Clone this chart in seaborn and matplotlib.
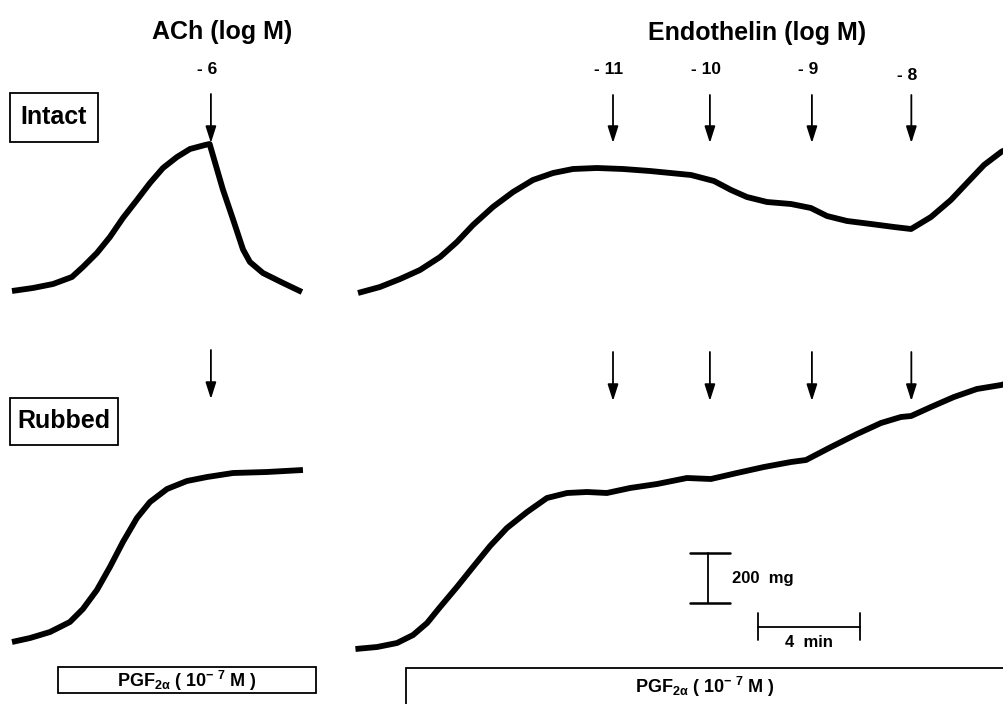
import numpy as np
import pandas as pd
import seaborn as sns
import matplotlib.pyplot as plt
from matplotlib.patches import Rectangle

# Tension traces: time after start of trace (min), tension above starting baseline (mg)
ach_intact_t = [0.00, 0.82, 1.61, 2.35, 2.78, 3.33, 3.84, 4.35, 4.90, 5.41, 5.92,
                6.47, 6.98, 7.57, 7.75, 8.27, 8.67, 9.06, 9.33, 9.84, 10.63, 11.37]
ach_intact_mg = [4, 16, 32, 60, 100, 156, 220, 296, 368, 436, 496,
                 540, 572, 588, 592, 410, 290, 170, 120, 76, 36, 0]

ach_rubbed_t = [0.00, 0.71, 1.49, 2.27, 2.78, 3.33, 3.84, 4.35, 4.90, 5.41, 6.08,
                6.86, 7.65, 8.67, 10.00, 11.41]
ach_rubbed_mg = [0, 16, 40, 80, 132, 208, 300, 400, 496, 560, 612,
                 644, 660, 676, 680, 688]

et_intact_t = [0.00, 0.86, 1.65, 2.43, 3.22, 3.88, 4.51, 5.29, 6.08, 6.86, 7.65,
               8.43, 9.37, 10.39, 11.45, 13.06, 13.96, 14.63, 15.25, 16.04, 16.98,
               17.76, 18.39, 19.18, 20.12, 21.02, 21.69, 22.47, 23.25, 23.88, 24.55,
               25.22, 25.65]
et_intact_mg = [0, 24, 56, 92, 144, 204, 272, 344, 404, 452, 480,
                496, 500, 496, 488, 472, 448, 412, 384, 364, 356,
                340, 308, 288, 276, 264, 256, 304, 372, 440, 512,
                564, 588]

et_rubbed_t = [-0.10, 0.75, 1.53, 2.16, 2.71, 3.22, 3.88, 4.51, 5.18, 5.84, 6.63,
               7.41, 8.20, 8.98, 9.76, 10.67, 11.73, 12.90, 13.84, 14.86, 15.92,
               16.98, 17.57, 18.55, 19.57, 20.51, 21.29, 21.69, 22.47, 23.37, 24.27,
               25.22, 25.65]
et_rubbed_mg = [0, 8, 24, 56, 104, 168, 248, 328, 412, 484, 548,
                604, 624, 628, 624, 644, 660, 684, 680, 704, 728,
                748, 756, 808, 860, 904, 928, 932, 968, 1008, 1040,
                1056, 1068]

# drug additions (min) and their doses (log M)
ach_times = [7.8]
ach_doses = ['-6']
et_times = [10.0, 13.8, 17.8, 21.7]
et_doses = ['-11', '-10', '-9', '-8']

scale_mg = 200
scale_min = 4

# ---- layout (pixels of a 1004x704 canvas) ----
W, H = 1004, 704
PX_PER_MIN = 25.5
PX_PER_MG = 0.25

sns.set_style('white')
plt.rcParams['font.family'] = ['Liberation Sans', 'DejaVu Sans']
plt.rcParams['text.color'] = 'black'
plt.rcParams['mathtext.fontset'] = 'custom'
plt.rcParams['mathtext.rm'] = 'Liberation Sans'
plt.rcParams['mathtext.bf'] = 'Liberation Sans:bold'
plt.rcParams['mathtext.default'] = 'bf'

fig = plt.figure(figsize=(W / 100, H / 100), dpi=100)


def fx(px):
    return px / W


def fy(py):
    return 1 - py / H


def panel(left, top, right, bottom, x0, y0):
    # axes whose data units are min / mg, trace start at pixel (x0, y0)
    ax = fig.add_axes([fx(left), fy(bottom), (right - left) / W, (bottom - top) / H])
    ax.set_xlim((left - x0) / PX_PER_MIN, (right - x0) / PX_PER_MIN)
    ax.set_ylim((y0 - bottom) / PX_PER_MG, (y0 - top) / PX_PER_MG)
    ax.axis('off')
    return ax


def trace(ax, t, mg):
    df = pd.DataFrame({'t': t, 'mg': mg})
    sns.lineplot(data=df, x='t', y='mg', ax=ax, color='black', lw=4.2,
                 sort=False, estimator=None, solid_joinstyle='round',
                 solid_capstyle='butt', legend=False)
    ax.set_xlabel('')
    ax.set_ylabel('')


def arrows(ax, times, y_top, y_tip, labels=None, label_y=None):
    for i, t in enumerate(times):
        ax.annotate('', xy=(t, fy(y_tip)), xytext=(t, fy(y_top)),
                    xycoords=('data', 'figure fraction'),
                    textcoords=('data', 'figure fraction'),
                    annotation_clip=False,
                    arrowprops=dict(arrowstyle='-|>,head_length=1.0,head_width=0.32',
                                    mutation_scale=10, lw=1.3, color='black',
                                    shrinkA=0, shrinkB=0))
        if labels is not None:
            ax.annotate(labels[i].replace('-', '- '), xy=(t, fy(label_y[i])),
                        xycoords=('data', 'figure fraction'),
                        xytext=(-3, 0), textcoords='offset points',
                        ha='center', va='center', fontsize=12.5, fontweight='bold',
                        annotation_clip=False)


ax_tl = panel(0, 60, 330, 320, 12, 292)
ax_bl = panel(0, 330, 330, 665, 12, 642)
ax_tr = panel(340, 60, 1004, 320, 358, 293)
ax_br = panel(340, 330, 1004, 665, 358, 649)

trace(ax_tl, ach_intact_t, ach_intact_mg)
trace(ax_bl, ach_rubbed_t, ach_rubbed_mg)
trace(ax_tr, et_intact_t, et_intact_mg)
trace(ax_br, et_rubbed_t, et_rubbed_mg)

arrows(ax_tl, ach_times, 94, 143, ach_doses, [70])
arrows(ax_tr, et_times, 95, 143, et_doses, [69, 69, 70, 75])
arrows(ax_bl, ach_times, 350, 399)
arrows(ax_br, et_times, 352, 401)

# calibration bars in the lower right panel (data units)
bar_t, bar_mg = 13.73, 184
ax_br.plot([bar_t, bar_t], [bar_mg, bar_mg + scale_mg], color='black', lw=1.3)
for m in (bar_mg, bar_mg + scale_mg):
    ax_br.plot([bar_t - 0.72, bar_t + 0.85], [m, m], color='black', lw=1.8)
ax_br.text(bar_t + 0.95, bar_mg + scale_mg / 2, '200  mg', fontsize=12,
           fontweight='bold', va='center', ha='left')

hb_t, hb_mg = 15.69, 88
ax_br.plot([hb_t, hb_t + scale_min], [hb_mg, hb_mg], color='black', lw=1.3)
for t in (hb_t, hb_t + scale_min):
    ax_br.plot([t, t], [hb_mg - 50, hb_mg + 56], color='black', lw=1.3)
ax_br.text(hb_t + scale_min / 2, hb_mg - 62, '4  min', fontsize=12,
           fontweight='bold', va='center', ha='center')

# titles
fig.text(fx(222), fy(32), 'ACh (log M)', fontsize=18, fontweight='bold',
         ha='center', va='center')
fig.text(fx(757), fy(33), 'Endothelin (log M)', fontsize=18, fontweight='bold',
         ha='center', va='center')


def boxed(x0, y0, x1, y1, text, fs, tx=None, ty=None):
    fig.patches.append(Rectangle((fx(x0), fy(y1)), fx(x1) - fx(x0), fy(y0) - fy(y1),
                                 transform=fig.transFigure, fill=False,
                                 edgecolor='black', lw=1.3))
    fig.text(fx(tx if tx is not None else (x0 + x1) / 2),
             fy(ty if ty is not None else (y0 + y1) / 2),
             text, fontsize=fs, fontweight='bold', ha='center', va='center')


boxed(10, 93, 98, 142, 'Intact', 18)
boxed(10, 398, 118, 445, 'Rubbed', 18)
pgf = r'PGF$_{2\alpha}$ ( 10$^{-\ 7}$ M )'
boxed(58, 667, 316, 693, pgf, 13, ty=681)
boxed(406, 668, 1010, 712, pgf, 13, tx=705, ty=687)

plt.savefig('out.png', dpi=100)
